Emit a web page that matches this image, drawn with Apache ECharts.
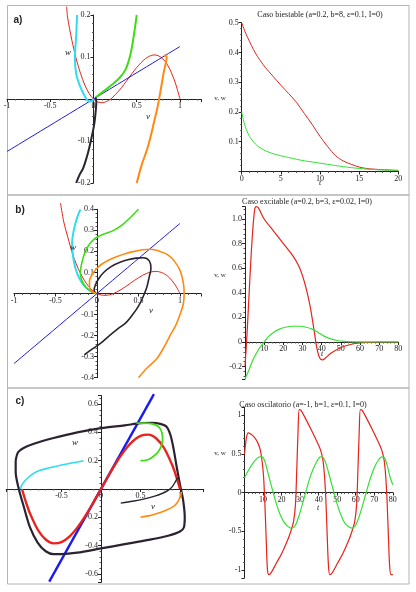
<!DOCTYPE html>
<html>
<head>
<meta charset="utf-8">
<script src="https://cdn.jsdelivr.net/npm/echarts@6/dist/echarts.min.js"></script>
<style>
  html, body { margin: 0; padding: 0; background: #fff; }
  #chart { width: 416px; height: 592px; }
</style>
</head>
<body>
<div id="chart"></div>
<script>
// a) caso biestable - plano de fase (v, w)
var aNullV = [[-0.31, 0.22], [-0.3, 0.195], [-0.25, 0.14], [-0.2, 0.096], [-0.15, 0.061], [-0.1, 0.033], [-0.05, 0.013], [0, 0], [0.05, -0.007], [0.1, -0.009], [0.15, -0.006], [0.2, 0], [0.3, 0.021], [0.4, 0.048], [0.5, 0.075], [0.6, 0.096], [0.7, 0.105], [0.75, 0.103], [0.8, 0.096], [0.85, 0.083], [0.9, 0.063], [0.95, 0.036], [1, 0]]
var aNullW = [[-1, -0.125], [1, 0.125]]
var aCyan = [[-0.19, 0.2], [-0.2, 0.15], [-0.215, 0.1], [-0.2, 0.06], [-0.16, 0.033], [-0.11, 0.01], [-0.07, -0.003], [-0.03, -0.006], [0.005, 0]]
var aGreen = [[0.5, 0.2], [0.48, 0.17], [0.45, 0.13], [0.42, 0.1], [0.37, 0.07], [0.3, 0.05], [0.22, 0.035], [0.14, 0.022], [0.07, 0.011], [0.02, 0.003]]
var aDark = [[-0.2, -0.2], [-0.16, -0.18], [-0.12, -0.165], [-0.08, -0.14], [-0.05, -0.117], [-0.02, -0.09], [0, -0.07], [0.015, -0.05], [0.027, -0.026], [0.033, -0.008], [0.025, 0.004]]
var aOrange = [[0.5, -0.2], [0.56, -0.155], [0.62, -0.12], [0.66, -0.09], [0.7, -0.055], [0.74, -0.02], [0.78, 0.025], [0.81, 0.061], [0.835, 0.085], [0.846, 0.099], [0.835, 0.104], [0.815, 0.102]]
// a) series temporales
var aV = [[0, 0.5], [0.5, 0.465], [1, 0.437], [1.5, 0.41], [2, 0.387], [2.5, 0.368], [3, 0.35], [4, 0.32], [5, 0.29], [6, 0.262], [7, 0.232], [8, 0.195], [9, 0.158], [10, 0.118], [11, 0.083], [12, 0.053], [13, 0.035], [14, 0.024], [15, 0.015], [16, 0.01], [18, 0.006], [20, 0.004]]
var aW = [[0, 0.2], [0.3, 0.165], [0.6, 0.14], [1, 0.118], [1.5, 0.1], [2, 0.086], [3, 0.07], [4, 0.06], [5, 0.053], [6, 0.047], [7, 0.041], [8, 0.036], [10, 0.028], [12, 0.02], [14, 0.013], [16, 0.008], [18, 0.005], [20, 0.003]]

// b) caso excitable
var bNullV = [[-0.44, 0.43], [-0.4, 0.34], [-0.35, 0.265], [-0.3, 0.195], [-0.25, 0.14], [-0.2, 0.096], [-0.15, 0.061], [-0.1, 0.033], [-0.05, 0.013], [0, 0], [0.05, -0.007], [0.1, -0.009], [0.15, -0.006], [0.2, 0], [0.3, 0.021], [0.4, 0.048], [0.5, 0.075], [0.6, 0.096], [0.7, 0.105], [0.75, 0.103], [0.8, 0.096], [0.85, 0.083], [0.9, 0.063], [0.95, 0.036], [1, 0]]
var bNullW = [[-1, -0.333], [1, 0.333]]
var bCyan = [[-0.2, 0.4], [-0.24, 0.36], [-0.28, 0.3], [-0.3, 0.24], [-0.29, 0.18], [-0.26, 0.12], [-0.21, 0.07], [-0.15, 0.035], [-0.08, 0.012], [-0.02, 0.002]]
var bGreen = [[0.5, 0.4], [0.4, 0.36], [0.3, 0.325], [0.2, 0.3], [0.1, 0.285], [0.04, 0.275], [-0.03, 0.26], [-0.09, 0.235], [-0.14, 0.2], [-0.18, 0.15], [-0.2, 0.1], [-0.18, 0.06], [-0.13, 0.028], [-0.07, 0.009], [-0.01, 0]]
var bDark = [[-0.15, -0.29], [-0.05, -0.262], [0.05, -0.235], [0.15, -0.2], [0.25, -0.168], [0.35, -0.138], [0.43, -0.1], [0.5, -0.06], [0.55, -0.02], [0.6, 0.03], [0.63, 0.08], [0.65, 0.12], [0.63, 0.155], [0.56, 0.17], [0.47, 0.168], [0.37, 0.16], [0.27, 0.147], [0.17, 0.128], [0.08, 0.1], [0.02, 0.07], [-0.02, 0.04], [-0.035, 0.015], [-0.02, 0.003]]
var bOrange = [[0.5, -0.4], [0.6, -0.355], [0.72, -0.31], [0.8, -0.26], [0.88, -0.2], [0.95, -0.15], [1, -0.1], [1.04, -0.05], [1.05, 0], [1.04, 0.05], [1, 0.11], [0.93, 0.155], [0.85, 0.185], [0.76, 0.2], [0.65, 0.21], [0.55, 0.208], [0.45, 0.2], [0.35, 0.19], [0.25, 0.177], [0.15, 0.16], [0.06, 0.14], [0, 0.12], [-0.05, 0.095], [-0.09, 0.06], [-0.09, 0.03], [-0.06, 0.01], [-0.01, 0]]
var bV = [[0, -0.2], [1, 0.05], [2, 0.35], [3, 0.65], [4, 0.9], [5, 1.07], [5.8, 1.1], [7, 1.09], [10, 1.0], [15, 0.9], [20, 0.8], [25, 0.7], [28, 0.62], [30, 0.54], [32, 0.43], [34, 0.29], [36, 0.1], [37.5, -0.05], [39, -0.13], [40.5, -0.145], [42, -0.13], [45, -0.09], [50, -0.045], [55, -0.02], [60, -0.008], [70, 0], [80, 0]]
var bW = [[0, -0.3], [2, -0.23], [4, -0.15], [6, -0.09], [8, -0.04], [10, 0], [12, 0.04], [15, 0.08], [18, 0.105], [21, 0.12], [25, 0.128], [29, 0.128], [32, 0.12], [35, 0.105], [38, 0.08], [41, 0.05], [44, 0.03], [48, 0.012], [52, 0.005], [60, 0.001], [70, 0], [80, 0]]

// c) caso oscilatorio
var cNullV = [[-1, 0], [-0.95, -0.093], [-0.9, -0.171], [-0.8, -0.288], [-0.7, -0.357], [-0.6, -0.384], [-0.5, -0.375], [-0.4, -0.336], [-0.3, -0.273], [-0.2, -0.192], [-0.1, -0.099], [0, 0], [0.1, 0.099], [0.2, 0.192], [0.3, 0.273], [0.4, 0.336], [0.5, 0.375], [0.6, 0.384], [0.7, 0.357], [0.8, 0.288], [0.9, 0.171], [0.95, 0.093], [1, 0]]
var cNullW = [[-0.655, -0.655], [0.67, 0.67]]
var cCycle = [[-1.08, 0.2], [-1.05, 0.26], [-0.98, 0.29], [-0.85, 0.32], [-0.6, 0.36], [-0.3, 0.4], [0, 0.43], [0.3, 0.45], [0.5, 0.465], [0.65, 0.468], [0.75, 0.46], [0.83, 0.44], [0.88, 0.38], [0.92, 0.28], [0.96, 0.15], [1, 0.03], [1.04, -0.08], [1.06, -0.2], [1.05, -0.27], [1, -0.3], [0.85, -0.33], [0.6, -0.36], [0.3, -0.39], [0, -0.42], [-0.3, -0.45], [-0.5, -0.46], [-0.6, -0.46], [-0.7, -0.44], [-0.8, -0.38], [-0.9, -0.27], [-0.98, -0.12], [-1.04, 0], [-1.08, 0.12], [-1.08, 0.2]]
var cDark = [[0.25, -0.1], [0.4, -0.087], [0.55, -0.07], [0.68, -0.05], [0.78, -0.03], [0.85, -0.01], [0.9, 0.015], [0.94, 0.05], [0.97, 0.08]]
var cGreen = [[0.5, 0.2], [0.58, 0.205], [0.65, 0.225], [0.72, 0.26], [0.76, 0.3], [0.78, 0.35], [0.77, 0.4], [0.73, 0.44], [0.65, 0.46], [0.55, 0.465], [0.45, 0.465]]
var cCyan = [[-0.22, 0.2], [-0.35, 0.185], [-0.5, 0.17], [-0.65, 0.15], [-0.78, 0.13], [-0.88, 0.1], [-0.95, 0.065], [-1, 0.03], [-1.02, 0]]
var cOrange = [[0.5, -0.2], [0.6, -0.19], [0.7, -0.175], [0.8, -0.155], [0.9, -0.13], [0.96, -0.1], [1, -0.06], [1.02, -0.02]]
var cV = [[0, 0.49], [1, 0.7], [2, 0.77], [3, 0.76], [5, 0.72], [7, 0.65], [8.5, 0.55], [9.5, 0.4], [10.3, 0.2], [11, -0.15], [11.7, -0.6], [12.4, -1.0], [13.2, -1.06], [14.5, -1.03], [17, -0.92], [20, -0.79], [23, -0.63], [25, -0.5], [26.5, -0.37], [27.5, -0.15], [28.2, 0.3], [28.9, 0.8], [29.5, 1.07], [30.5, 1.06], [33, 0.95], [36, 0.81], [39, 0.66], [41, 0.55], [42.3, 0.42], [43.2, 0.2], [43.9, -0.1], [44.6, -0.55], [45.3, -0.95], [46, -1.06], [47.2, -1.04], [50, -0.92], [53, -0.79], [56, -0.63], [58, -0.5], [59.5, -0.37], [60.5, -0.15], [61.2, 0.3], [61.9, 0.8], [62.5, 1.07], [63.5, 1.06], [66, 0.95], [69, 0.81], [72, 0.66], [74, 0.55], [75.3, 0.42], [76.2, 0.2], [76.9, -0.1], [77.6, -0.55], [78.3, -0.95], [79, -1.06], [80, -1.06]]
var cW = [[0, 0.19], [2, 0.28], [4, 0.36], [6, 0.42], [8, 0.46], [9.5, 0.46], [11, 0.4], [13, 0.22], [15, 0.04], [17, -0.13], [19, -0.27], [21, -0.37], [23, -0.43], [25, -0.46], [27, -0.44], [29, -0.33], [31, -0.17], [33, 0], [35, 0.17], [37, 0.3], [39, 0.4], [41, 0.46], [42.5, 0.45], [44, 0.37], [46, 0.2], [48, 0.02], [50, -0.15], [52, -0.29], [54, -0.39], [56, -0.44], [58, -0.46], [60, -0.42], [62, -0.3], [64, -0.14], [66, 0.03], [68, 0.19], [70, 0.32], [72, 0.41], [74, 0.46], [75.5, 0.45], [77, 0.35], [78.5, 0.2], [80, 0.1]]

var titles = ['Caso biestable (a=0.2, b=8, ε=0.1, I=0)', 'Caso excitable (a=0.2, b=3, ε=0.02, I=0)', 'Caso oscilatorio (a=-1, b=1, ε=0.1, I=0)']

var RED = '#e8221c'
var BLUE = '#1b1bef'
var CYAN = '#2fdcee'
var GREEN = '#3ddc14'
var ORANGE = '#ff8a12'
var DARK = '#2c2232'
var TGREEN = '#35e035'
var serif = 'Liberation Serif'

function fmt(step, dec, hide) {
  hide = hide || []
  return function(v) {
    var k = Math.round(v / step)
    if (Math.abs(v - k * step) > step * 0.001) return ''
    var val = k * step
    for (var i = 0; i < hide.length; i++) {
      if (Math.abs(val - hide[i]) < step * 0.001) return ''
    }
    if (Math.abs(val) < step * 0.001) return '0'
    return dec == null ? String(parseFloat(val.toFixed(3))) : val.toFixed(dec)
  }
}

function axis(grid, min, max, labelFmt, extra) {
  var a = {
    type: 'value',
    gridIndex: grid,
    min: min,
    max: max,
    axisLine: { onZero: false, lineStyle: { color: '#222', width: 1 } },
    axisTick: { show: true, length: 3, lineStyle: { color: '#222' } },
    minorTick: { show: true, splitNumber: 5, length: 1.5, lineStyle: { color: '#555' } },
    splitLine: { show: false },
    axisLabel: { fontSize: 8, fontFamily: serif, color: '#222', margin: 3, formatter: labelFmt }
  }
  for (var k in extra) a[k] = extra[k]
  return a
}

function line(data, color, width, idx) {
  return {
    type: 'line',
    xAxisIndex: idx,
    yAxisIndex: idx,
    data: data,
    showSymbol: false,
    smooth: 0.3,
    clip: false,
    silent: true,
    lineStyle: { color: color, width: width }
  }
}

var grids = [
  { left: 7, top: 15, width: 194.6, height: 168 },
  { left: 241.7, top: 22.7, width: 156.6, height: 148.8 },
  { left: 14, top: 209.3, width: 186.75, height: 168.4 },
  { left: 245, top: 206.7, width: 153.3, height: 172.2 },
  { left: 6.2, top: 395.6, width: 197.5, height: 186.8 },
  { left: 244.5, top: 407.25, width: 148.3, height: 170.5 }
]
var xRange = [[-1, 1.25], [0, 20], [-1, 1.25], [0, 80], [-1.2, 1.3], [0, 80]]
var yRange = [[-0.2, 0.2], [0, 0.5], [-0.4, 0.4], [-0.3, 1.1], [-0.66, 0.66], [-1.1, 1.1]]

// shift each axis so that it crosses the other one at zero
function xShift(gi) {
  var r = yRange[gi]
  return -grids[gi].height * (0 - r[0]) / (r[1] - r[0])
}
function yShift(gi) {
  var r = xRange[gi]
  return -grids[gi].width * (0 - r[0]) / (r[1] - r[0])
}

var xOpts = [
  [fmt(0.5), {}],
  [fmt(5), { interval: 5 }],
  [fmt(0.5), {}],
  [fmt(10, null, [0]), { interval: 10 }],
  [fmt(0.5, null, [-1]), {}],
  [fmt(10, null, [0]), { interval: 10 }]
]
var yOpts = [
  [fmt(0.1, null, [0]), { interval: 0.1 }],
  [fmt(0.1, null, [0]), { interval: 0.1 }],
  [fmt(0.1, null, [0]), { interval: 0.1 }],
  [fmt(0.2, 1), { splitNumber: 7 }],
  [fmt(0.2, null, [0]), { splitNumber: 7 }],
  [fmt(0.5), { splitNumber: 5 }]
]

var xAxes = []
var yAxes = []
for (var i = 0; i < 6; i++) {
  var xo = xOpts[i][1]
  xo.offset = xShift(i)
  xAxes.push(axis(i, xRange[i][0], xRange[i][1], xOpts[i][0], xo))
  var yo = yOpts[i][1]
  yo.offset = yShift(i)
  yAxes.push(axis(i, yRange[i][0], yRange[i][1], yOpts[i][0], yo))
}

var series = [
  line(aNullV, RED, 1, 0), line(aNullW, BLUE, 1, 0),
  line(aCyan, CYAN, 2, 0), line(aGreen, GREEN, 2, 0), line(aDark, DARK, 2, 0), line(aOrange, ORANGE, 2, 0),
  line(aV, RED, 1, 1), line(aW, TGREEN, 1, 1),
  line(bNullV, RED, 1, 2), line(bNullW, BLUE, 1, 2),
  line(bCyan, CYAN, 2, 2), line(bGreen, GREEN, 1.6, 2), line(bDark, DARK, 1.6, 2), line(bOrange, ORANGE, 1.6, 2),
  line(bV, RED, 1.2, 3), line(bW, TGREEN, 1.2, 3),
  line(cNullW, BLUE, 2.4, 4), line(cCycle, DARK, 2.2, 4), line(cNullV, RED, 2.4, 4),
  line(cGreen, GREEN, 1.8, 4), line(cCyan, CYAN, 1.6, 4), line(cOrange, ORANGE, 1.6, 4), line(cDark, DARK, 1.4, 4),
  line(cV, RED, 1.2, 5), line(cW, TGREEN, 1.2, 5)
]

var txt = function(x, y, text, style) {
  var s = { text: text, fontFamily: serif, fontSize: 8, fill: '#222', textAlign: 'center', textVerticalAlign: 'middle' }
  for (var k in style) s[k] = style[k]
  return { type: 'text', x: x, y: y, style: s, silent: true, z: 10 }
}
var frame = function(y1, y2) {
  return { type: 'rect', shape: { x: 7.5, y: y1, width: 401.5, height: y2 - y1 }, style: { fill: null, stroke: '#b4b4b4', lineWidth: 1 }, silent: true }
}

var graphics = [
  frame(5.5, 195), frame(195, 388), frame(388, 584),
  txt(18, 20, 'a)', { fontFamily: 'Liberation Sans', fontWeight: 'bold', fontSize: 10 }),
  txt(20, 210, 'b)', { fontFamily: 'Liberation Sans', fontWeight: 'bold', fontSize: 10 }),
  txt(20, 401, 'c)', { fontFamily: 'Liberation Sans', fontWeight: 'bold', fontSize: 10 }),
  txt(320, 15, titles[0]), txt(307, 202, titles[1]), txt(303, 405, titles[2]),
  txt(220, 98, 'v, w', { fontSize: 7 }), txt(220, 275, 'v, w', { fontSize: 7 }), txt(220, 453, 'v, w', { fontSize: 7 }),
  txt(320, 183, 't', { fontStyle: 'italic' }), txt(322, 354, 't', { fontStyle: 'italic' }), txt(318, 508, 't', { fontStyle: 'italic' }),
  txt(68, 53, 'w', { fontStyle: 'italic', fontSize: 9 }), txt(148, 117, 'v', { fontStyle: 'italic', fontSize: 9 }),
  txt(73, 248, 'w', { fontStyle: 'italic', fontSize: 9 }), txt(151, 311, 'v', { fontStyle: 'italic', fontSize: 9 }),
  txt(75, 443, 'w', { fontStyle: 'italic', fontSize: 9 }), txt(153, 507, 'v', { fontStyle: 'italic', fontSize: 9 })
]

var myChart = echarts.init(document.getElementById('chart'))
myChart.setOption({
  animation: false,
  backgroundColor: '#fff',
  grid: grids,
  xAxis: xAxes,
  yAxis: yAxes,
  series: series,
  graphic: graphics
})
</script>
</body>
</html>
